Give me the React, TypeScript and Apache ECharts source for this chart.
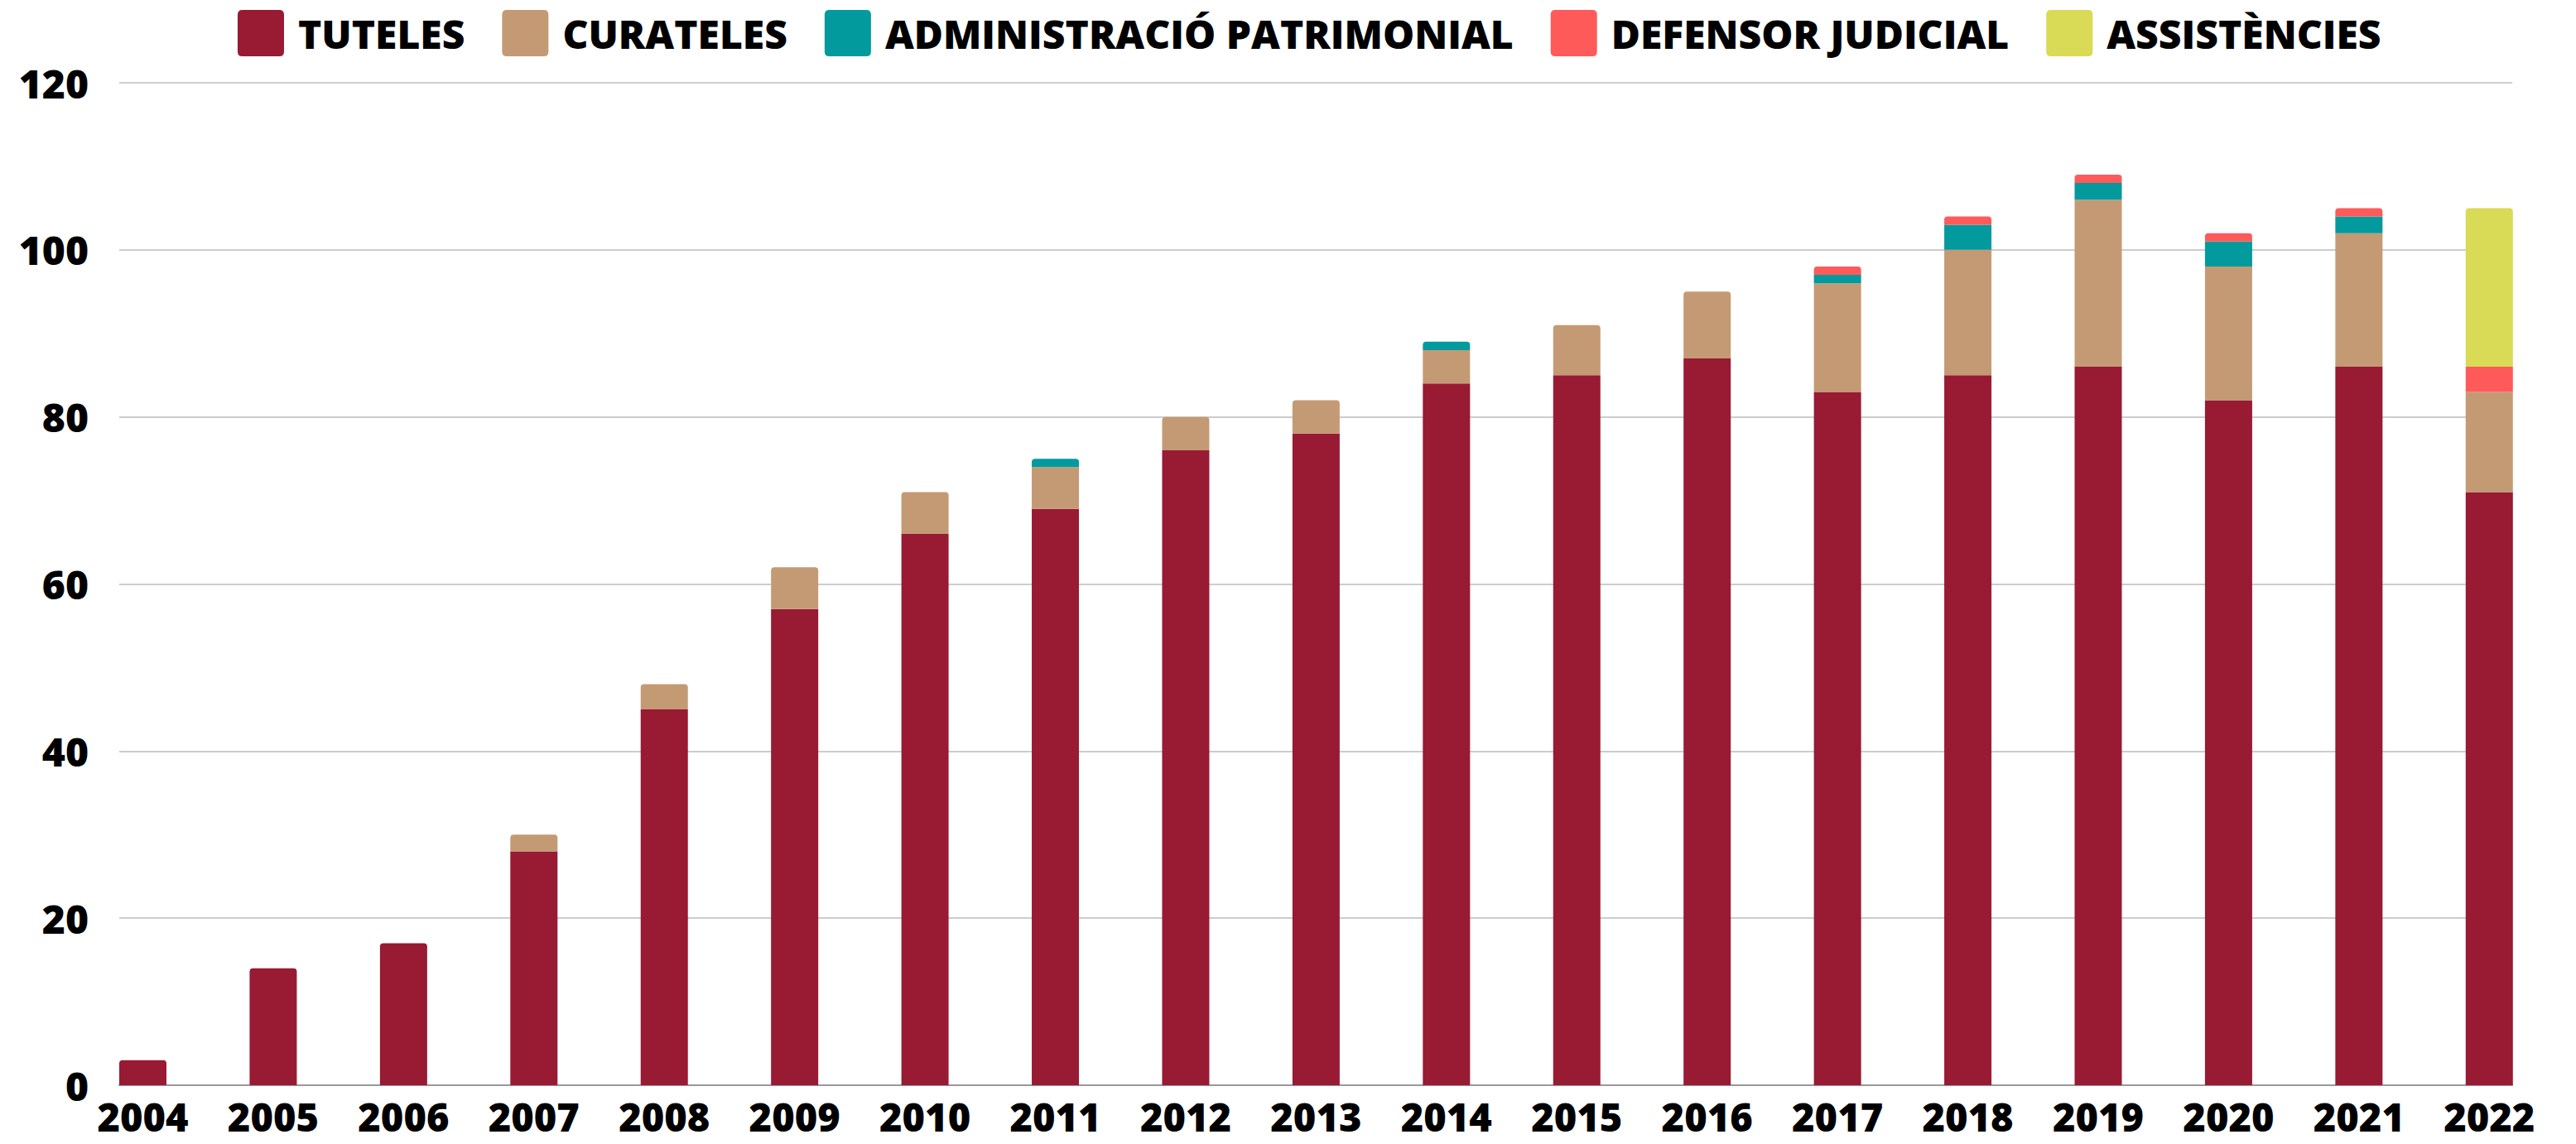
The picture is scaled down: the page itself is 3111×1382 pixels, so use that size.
import React, { useEffect, useRef } from "react";
import * as echarts from "echarts";

const years = ["2004","2005","2006","2007","2008","2009","2010","2011","2012","2013","2014","2015","2016","2017","2018","2019","2020","2021","2022"];
const tuteles = [3,14,17,28,45,57,66,69,76,78,84,85,87,83,85,86,82,86,71];
const curateles = [0,0,0,2,3,5,5,5,4,4,4,6,8,13,15,20,16,16,12];
const administracio = [0,0,0,0,0,0,0,1,0,0,1,0,0,1,3,2,3,2,0];
const defensor = [0,0,0,0,0,0,0,0,0,0,0,0,0,1,1,1,1,1,3];
const assistencies = [0,0,0,0,0,0,0,0,0,0,0,0,0,0,0,0,0,0,19];
const seriesNames = ["TUTELES","CURATELES","ADMINISTRACIÓ PATRIMONIAL","DEFENSOR JUDICIAL","ASSISTÈNCIES"];
const seriesColors = ["#981A33","#C49A74","#039A9E","#FF5A5A","#D9DA55"];
const yTicks = { min: 0, max: 120, interval: 20 };

const FONT = "'Open Sans', 'Noto Sans', sans-serif";

export default function App() {
  const ref = useRef<HTMLDivElement>(null);
  useEffect(() => {
    if (!ref.current) return;
    const chart = echarts.init(ref.current, undefined, { renderer: "svg" });
    const all = [tuteles, curateles, administracio, defensor, assistencies];
    const topIdx = years.map((_, i) => {
      let t = -1;
      all.forEach((s, k) => { if (s[i] > 0) t = k; });
      return t;
    });
    const series = all.map((vals, k) => ({
      name: seriesNames[k],
      type: "bar",
      stack: "total",
      xAxisIndex: 1,
      yAxisIndex: 1,
      barWidth: 57,
      itemStyle: { color: seriesColors[k] },
      data: vals.map((v, i) =>
        v > 0
          ? { value: v, itemStyle: topIdx[i] === k ? { borderRadius: [4, 4, 0, 0] } : { borderRadius: 0 } }
          : "-"
      ),
    }));
    chart.setOption({
      animation: false,
      backgroundColor: "#ffffff",
      legend: {
        left: 287,
        top: 12,
        padding: 0,
        itemWidth: 56,
        itemHeight: 56,
        itemGap: 45,
        icon: "path://M1,0 L9,0 Q10,0 10,1 L10,9 Q10,10 9,10 L1,10 Q0,10 0,9 L0,1 Q0,0 1,0 Z",
        itemStyle: { borderWidth: 0 },
        data: seriesNames,
        textStyle: {
          fontFamily: FONT,
          fontSize: 48,
          fontWeight: 800,
          color: "#000000",
          padding: [0, 0, 0, 12],
        },
      },
      grid: [
        { left: 144, right: 77, top: 100, bottom: 71 },
        { left: 93.8, right: 26, top: 100, bottom: 71 },
      ],
      xAxis: [
        {
          gridIndex: 0,
          type: "value",
          min: 0,
          max: 1,
          axisLabel: { show: false },
          axisTick: { show: false },
          splitLine: { show: false },
          axisLine: { show: true, lineStyle: { color: "#999999", width: 2 } },
        },
        {
          gridIndex: 1,
          type: "category",
          data: years,
          axisLine: { show: false },
          axisTick: { show: false },
          axisLabel: {
            fontFamily: FONT,
            fontSize: 47,
            fontWeight: 800,
            color: "#000000",
            margin: 18,
            lineHeight: 40,
            interval: 0,
          },
        },
      ],
      yAxis: [
        {
          gridIndex: 0,
          type: "value",
          min: yTicks.min,
          max: yTicks.max,
          interval: yTicks.interval,
          axisLine: { show: false },
          axisTick: { show: false },
          axisLabel: {
            fontFamily: FONT,
            fontSize: 48,
            fontWeight: 800,
            color: "#000000",
            margin: 37,
          },
          splitLine: { show: true, lineStyle: { color: "#cccccc", width: 2 } },
        },
        {
          gridIndex: 1,
          type: "value",
          min: yTicks.min,
          max: yTicks.max,
          interval: yTicks.interval,
          show: false,
          splitLine: { show: false },
        },
      ],
      series,
    });
    return () => chart.dispose();
  }, []);
  return (
    <div
      ref={ref}
      style={{ position: "absolute", left: 0, top: 0, width: 3111, height: 1382, background: "#fff" }}
    />
  );
}
